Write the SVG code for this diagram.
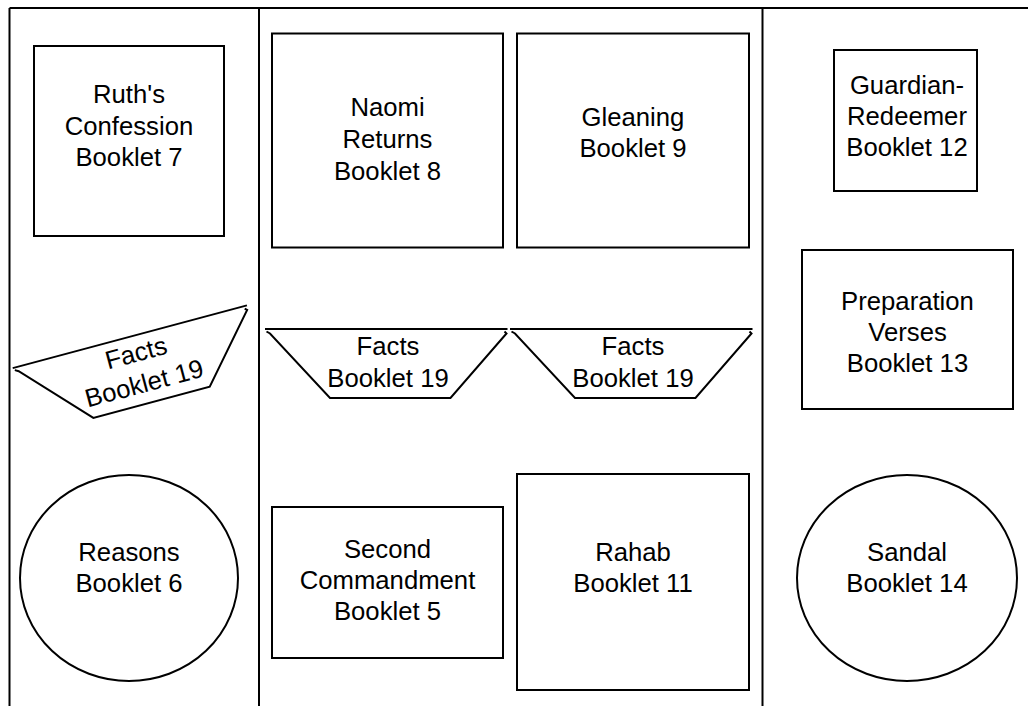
<svg xmlns="http://www.w3.org/2000/svg" width="1028" height="706" viewBox="0 0 1028 706">
<style>
.sh{fill:#fff;stroke:#000;stroke-width:2}
.ln{fill:none;stroke:#000;stroke-width:2}
.t{font-family:"Liberation Sans",Arial,Helvetica,sans-serif;font-size:25.7px;fill:#000;text-anchor:middle}
</style>
<defs>
<g id="facts">
<path class="ln" d="M-121.5,-34.5 L121,-34.5"/>
<path class="sh" d="M-120,-32 L-116.5,-30 L-56.5,34.5 L64,34.5 L120,-30 L118,-32"/>
<text class="t"><tspan x="1.5" y="-8.5">Facts</tspan><tspan x="1.5" y="23">Booklet 19</tspan></text>
</g>
</defs>
<rect width="1028" height="706" fill="#fff"/>
<g id="frame" class="ln">
<path class="ln" d="M9.5,8 L1028,8 M9.5,8 L9.5,706 M259,8 L259,706 M762.5,8 L762.5,706"/>
</g>
<g id="connectors"></g>
<g id="ruth"><rect class="sh" x="34" y="46" width="190" height="190"/><text class="t"><tspan x="129" y="103">Ruth's</tspan><tspan x="129" y="135">Confession</tspan><tspan x="129" y="166">Booklet 7</tspan></text></g>
<g id="naomi"><rect class="sh" x="272" y="33.5" width="231" height="214"/><text class="t"><tspan x="387.5" y="115.5">Naomi</tspan><tspan x="387.5" y="147.5">Returns</tspan><tspan x="387.5" y="179.5">Booklet 8</tspan></text></g>
<g id="gleaning"><rect class="sh" x="517" y="33.5" width="232" height="214"/><text class="t"><tspan x="633" y="125.5">Gleaning</tspan><tspan x="633" y="157">Booklet 9</tspan></text></g>
<g id="guardian"><rect class="sh" x="834" y="50" width="143" height="141"/><text class="t"><tspan x="907" y="94">Guardian-</tspan><tspan x="907" y="125">Redeemer</tspan><tspan x="907" y="156">Booklet 12</tspan></text></g>
<g id="preparation"><rect class="sh" x="802" y="250" width="211" height="159"/><text class="t"><tspan x="907.5" y="310">Preparation</tspan><tspan x="907.5" y="341">Verses</tspan><tspan x="907.5" y="372">Booklet 13</tspan></text></g>
<g id="facts-left"><use href="#facts" transform="translate(139,370) rotate(-15)"/></g>
<g id="facts-mid"><use href="#facts" transform="translate(386.5,363.5)"/></g>
<g id="facts-right"><use href="#facts" transform="translate(631.5,363.5)"/></g>
<g id="reasons"><ellipse class="sh" cx="129" cy="578" rx="109" ry="103"/><text class="t"><tspan x="129" y="561">Reasons</tspan><tspan x="129" y="592">Booklet 6</tspan></text></g>
<g id="second"><rect class="sh" x="272" y="507" width="231" height="151"/><text class="t"><tspan x="387.5" y="558">Second</tspan><tspan x="387.5" y="589">Commandment</tspan><tspan x="387.5" y="620">Booklet 5</tspan></text></g>
<g id="rahab"><rect class="sh" x="517" y="474" width="232" height="216"/><text class="t"><tspan x="633" y="561">Rahab</tspan><tspan x="633" y="592">Booklet 11</tspan></text></g>
<g id="sandal"><ellipse class="sh" cx="907" cy="578" rx="110" ry="103"/><text class="t"><tspan x="907" y="561">Sandal</tspan><tspan x="907" y="592">Booklet 14</tspan></text></g>
</svg>
